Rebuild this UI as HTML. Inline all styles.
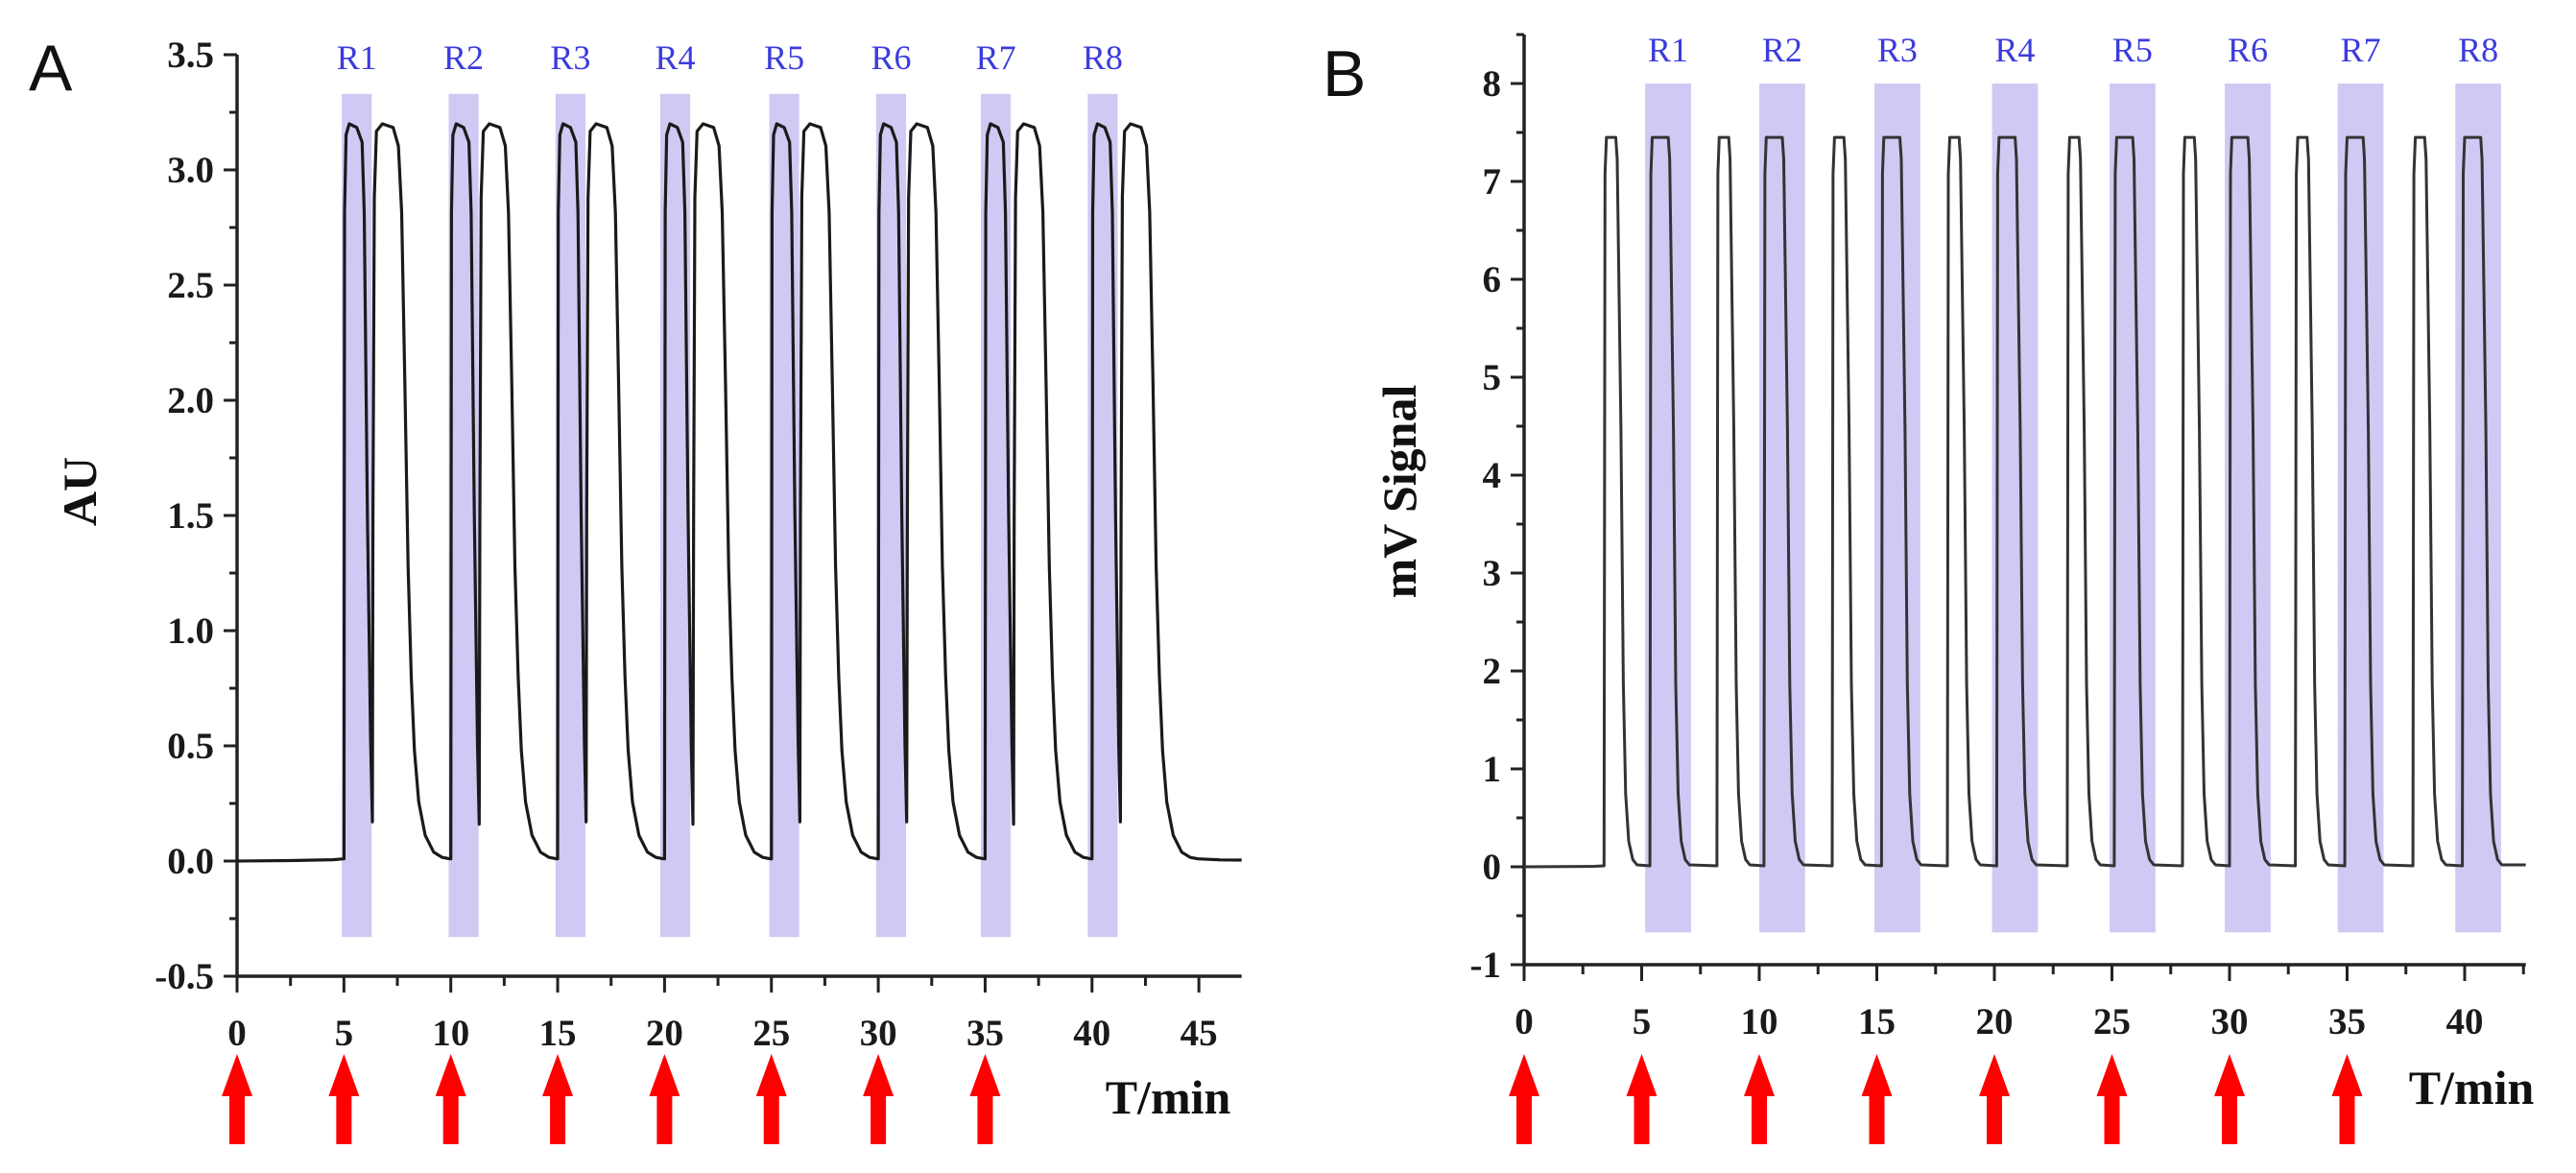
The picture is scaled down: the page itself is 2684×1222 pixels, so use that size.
<!DOCTYPE html>
<html><head><meta charset="utf-8">
<style>
html,body{margin:0;padding:0;background:#fff;}
svg{display:block;}
.tk{font-family:"Liberation Serif",serif;font-weight:bold;font-size:39px;fill:#1a1a1a;}
.rl{font-family:"Liberation Serif",serif;font-size:36px;fill:#3b3bdd;}
.ttl{font-family:"Liberation Serif",serif;font-weight:bold;font-size:50px;fill:#111;}
.pl{font-family:"Liberation Sans",sans-serif;font-size:68px;fill:#111;}
</style></head>
<body>
<svg id="fig" width="2684" height="1222" viewBox="0 0 2684 1222" xmlns="http://www.w3.org/2000/svg">
<text class="pl" x="30" y="94">A</text>
<text class="pl" x="1378" y="100">B</text>
<g id="chartA"></g>
<g id="chartB"></g>
</svg>
<script>
// ---------- Chart A data ----------
const aCycleStarts = [5,10,15,20,25,30,35,40];
const aBandLabels = ["R1","R2","R3","R4","R5","R6","R7","R8"];
const aBandStarts = [4.9,9.9,14.9,19.8,24.9,29.9,34.8,39.8];
const aBandWidth = 1.4;
const aPeakLevels = [3.2,3.2,3.2,3.2,3.2,3.2,3.2,3.2];
const aDipLevels = [0.17,0.16,0.17,0.16,0.17,0.17,0.16,0.17];
// waveform template of one cycle: offsets (min) and relative values (fraction of peak); -1 marks the dip
const aTplDt =  [0,0.03,0.1,0.25,0.6,0.85,0.95,1.1,1.25,1.33,1.36,1.42,1.52,1.8,2.3,2.55,2.7,2.85,3.0,3.15,3.3,3.5,3.8,4.2,4.6,4.95];
const aTplV  =  [0.003,0.88,0.985,1.0,0.995,0.975,0.88,0.47,0.16,-1,0.47,0.9,0.99,1.0,0.995,0.97,0.88,0.65,0.4,0.25,0.15,0.08,0.035,0.012,0.005,0.003];
const aYTicks = [-0.5,0.0,0.5,1.0,1.5,2.0,2.5,3.0,3.5];
const aYTickLabels = ["-0.5","0.0","0.5","1.0","1.5","2.0","2.5","3.0","3.5"];
const aXTicks = [0,5,10,15,20,25,30,35,40,45];
const aArrows = [0,5,10,15,20,25,30,35];

// ---------- Chart B data ----------
const bNarrowStarts = [3.4,8.2,13.1,18.0,23.1,28.0,32.8,37.8];
const bNarrowWidth = 0.6;
const bWideStarts = [5.35,10.2,15.2,20.1,25.1,30.0,34.9,39.9];
const bWideWidth = 0.88;
const bPulseLevel = 7.45;
const bBandLabels = ["R1","R2","R3","R4","R5","R6","R7","R8"];
const bBandStarts = [5.15,10.0,14.9,19.9,24.9,29.8,34.6,39.6];
const bBandWidth = 1.95;
const bYTicks = [-1,0,1,2,3,4,5,6,7,8];
const bYTickLabels = ["-1","0","1","2","3","4","5","6","7","8"];
const bXTicks = [0,5,10,15,20,25,30,35,40];
const bArrows = [0,5,10,15,20,25,30,35];

const NS="http://www.w3.org/2000/svg";
function mk(parent,tag,attrs){const e=document.createElementNS(NS,tag);for(const k in attrs)e.setAttribute(k,attrs[k]);parent.appendChild(e);return e;}

function drawAxes(g,xs,ys,xmin,xmax,ymin,ymax,yTicks,yLabels,yMinorStep,xTicks,xMinorStep,arrows,titleX,titleY,yTitle,yTitleX,yTitleY){
  const ax=mk(g,'path',{d:`M${xs(xmin)},${ys(ymax)} L${xs(xmin)},${ys(ymin)} L${xs(xmax)},${ys(ymin)}`,fill:'none',stroke:'#222','stroke-width':3.5});
  
  
  for(let v=ymin;v<=ymax+1e-9;v+=yMinorStep){
    const maj=yTicks.some(t=>Math.abs(t-v)<1e-6);
    const t=mk(g,'line',{x1:xs(xmin),x2:xs(xmin)-(maj?14:8),y1:ys(v),y2:ys(v),stroke:'#222','stroke-width':3});
    
    
  }
  yTicks.forEach((v,i)=>{
    const t=mk(g,'text',{class:'tk',x:xs(xmin)-24,y:ys(v)+13,'text-anchor':'end'});
    t.textContent=yLabels[i];
    
    
  });
  for(let v=xmin;v<=xmax+1e-9;v+=xMinorStep){
    const maj=xTicks.some(t=>Math.abs(t-v)<1e-6);
    const t=mk(g,'line',{x1:xs(v),x2:xs(v),y1:ys(ymin),y2:ys(ymin)+(maj?17:10),stroke:'#222','stroke-width':3});
    
    
  }
  xTicks.forEach(v=>{
    const t=mk(g,'text',{class:'tk',x:xs(v),y:ys(ymin)+72,'text-anchor':'middle'});
    t.textContent=String(v);
    
    
  });
  arrows.forEach(v=>{
    const x=xs(v);
    const a=mk(g,'path',{d:`M${x},1098 L${x+16},1142 L${x+8},1142 L${x+8},1192 L${x-8},1192 L${x-8},1142 L${x-16},1142 Z`,fill:'#ff0000'});
    
    
  });
  const tt=mk(g,'text',{class:'ttl',x:titleX,y:titleY,'text-anchor':'middle'});
  tt.textContent='T/min';
  
  
  const yt=mk(g,'text',{class:'ttl',x:0,y:0,'text-anchor':'middle',transform:`translate(${yTitleX},${yTitleY}) rotate(-90)`});
  yt.textContent=yTitle;
  
  
}

// ---------- Chart A ----------
(function(){
  const g=document.getElementById('chartA');
  const xs=t=>247+t*22.27;
  const ys=v=>897-v*240;
  aBandStarts.forEach((s,i)=>{
    const r=mk(g,'rect',{x:xs(s),y:ys(3.33),width:xs(s+aBandWidth)-xs(s),height:ys(-0.33)-ys(3.33),fill:'#cfcaf3'});
    
    
    const l=mk(g,'text',{class:'rl',x:xs(s+aBandWidth/2),y:72,'text-anchor':'middle'});
    l.textContent=aBandLabels[i];
    
    
  });
  drawAxes(g,xs,ys,0,47,-0.5,3.5,aYTicks,aYTickLabels,0.25,aXTicks,2.5,aArrows,1217,1160,'AU',100,512);
  let pts=[[0,0.0],[2.5,0.002],[4.5,0.006]];
  aCycleStarts.forEach((c,i)=>{
    aTplDt.forEach((dt,j)=>{
      let v=aTplV[j]<0?aDipLevels[i]:aTplV[j]*aPeakLevels[i];
      pts.push([c+dt,v]);
    });
  });
  pts.push([46,0.005],[47,0.004]);
  const d=pts.map((p,i)=>(i?'L':'M')+xs(p[0]).toFixed(1)+','+ys(p[1]).toFixed(1)).join(' ');
  const ln=mk(g,'path',{d:d,fill:'none',stroke:'#1a1a1a','stroke-width':3.2,'stroke-linejoin':'round'});
  
  
})();

// ---------- Chart B ----------
(function(){
  const g=document.getElementById('chartB');
  const xs=t=>1588+t*24.5;
  const ys=v=>903-v*102;
  bBandStarts.forEach((s,i)=>{
    const r=mk(g,'rect',{x:xs(s),y:ys(8),width:xs(s+bBandWidth)-xs(s),height:ys(-0.67)-ys(8),fill:'#cfcaf3'});
    
    
    const l=mk(g,'text',{class:'rl',x:xs(s+bBandWidth/2),y:64,'text-anchor':'middle'});
    l.textContent=bBandLabels[i];
    
    
  });
  drawAxes(g,xs,ys,0,42.6,-1,8.5,bYTicks,bYTickLabels,0.5,bXTicks,2.5,bArrows,2575,1150,'mV Signal',1475,512);
  const starts=[],widths=[];
  bNarrowStarts.forEach((s,i)=>{starts.push(s);widths.push(bNarrowWidth);starts.push(bWideStarts[i]);widths.push(bWideWidth);});
  let pts=[[0,0],[3.0,0.005]];
  const L=bPulseLevel;
  starts.forEach((s,i)=>{
    const e=s+widths[i];
    pts.push([s,0.01],[s+0.04,L*0.95],[s+0.1,L],[e-0.1,L],[e-0.04,L*0.97],[e+0.12,L*0.6],[e+0.22,L*0.25],[e+0.32,L*0.1],[e+0.45,L*0.035],[e+0.62,L*0.01],[e+0.8,0.02]);
  });
  pts.push([42.6,0.02]);
  const d=pts.map((p,i)=>(i?'L':'M')+xs(p[0]).toFixed(1)+','+ys(p[1]).toFixed(1)).join(' ');
  const ln=mk(g,'path',{d:d,fill:'none',stroke:'#333','stroke-width':3,'stroke-linejoin':'round'});
  
  
})();
</script>
</body></html>
